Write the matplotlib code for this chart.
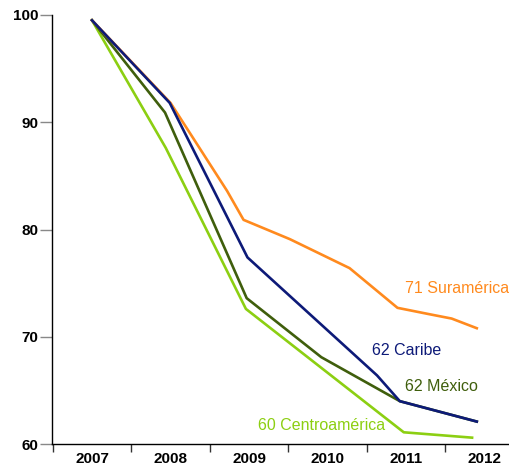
import matplotlib.pyplot as plt
from matplotlib.ticker import MultipleLocator, FixedLocator

plt.rcParams['font.family'] = ['Liberation Sans', 'DejaVu Sans']

# data (fractional years)
sur_x = [2007.0, 2008.0, 2008.72, 2008.93, 2009.52, 2010.28, 2010.89, 2011.30, 2011.58, 2011.90]
sur_y = [99.5, 91.8, 83.6, 80.9, 79.1, 76.4, 72.7, 72.1, 71.7, 70.8]

car_x = [2007.0, 2007.99, 2008.98, 2010.63, 2010.92, 2011.90]
car_y = [99.5, 91.8, 77.4, 66.4, 64.0, 62.1]

mex_x = [2007.0, 2007.93, 2008.97, 2009.92, 2010.92, 2011.90]
mex_y = [99.5, 90.9, 73.6, 68.1, 64.0, 62.1]

cen_x = [2007.0, 2007.94, 2008.96, 2010.97, 2011.84]
cen_y = [99.5, 87.6, 72.6, 61.1, 60.6]

years = [2007, 2008, 2009, 2010, 2011, 2012]

c_sur = '#ff8a1e'
c_car = '#0d1a78'
c_mex = '#3f5e0c'
c_cen = '#8ccf12'

fig = plt.figure(figsize=(5.09, 4.66), dpi=100)
ax = fig.add_axes([0.102, 0.047, 0.898, 0.921])

ax.plot(cen_x, cen_y, color=c_cen, lw=1.9)
ax.plot(mex_x, mex_y, color=c_mex, lw=1.9)
ax.plot(sur_x, sur_y, color=c_sur, lw=1.9)
ax.plot(car_x, car_y, color=c_car, lw=1.9)

lab = dict(fontsize=11.5, ha='left', va='center')
ax.text(2010.98, 74.5, '71 Suramérica', color=c_sur, **lab)
ax.text(2010.56, 68.7, '62 Caribe', color=c_car, **lab)
ax.text(2010.98, 65.4, '62 México', color=c_mex, **lab)
ax.text(2009.11, 61.7, '60 Centroamérica', color=c_cen, **lab)

ax.set_xlim(2006.49, 2012.31)
ax.set_ylim(60, 100)

ax.spines['top'].set_visible(False)
ax.spines['right'].set_visible(False)
ax.spines['left'].set_linewidth(1.0)
ax.spines['bottom'].set_linewidth(1.0)

ax.yaxis.set_major_locator(MultipleLocator(10))
ax.tick_params(axis='y', length=8.5, width=1, color='#888888', pad=1,
               labelsize=11)
for t in ax.get_yticklabels():
    t.set_fontweight('bold')

ax.set_xticks(years)
ax.set_xticklabels([str(y) for y in years], fontweight='bold', fontsize=11)
ax.xaxis.set_minor_locator(FixedLocator([y - 0.5 for y in years]))
ax.tick_params(axis='x', which='major', length=0, pad=6)
ax.tick_params(axis='x', which='minor', length=6, width=1, color='#333333')

fig.savefig('out.png', dpi=100)
